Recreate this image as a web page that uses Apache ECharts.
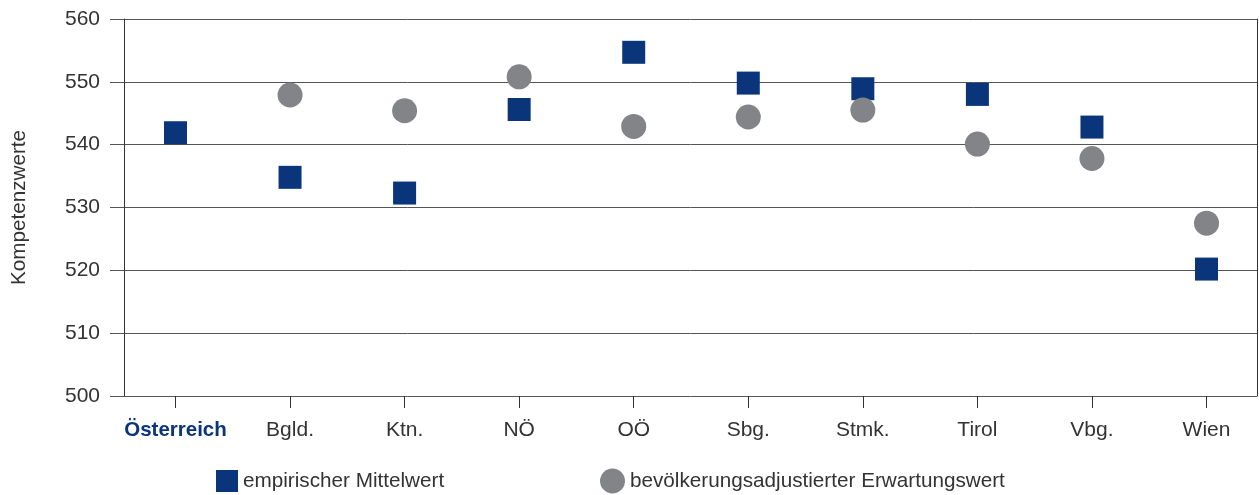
<!DOCTYPE html>
<html>
<head>
<meta charset="utf-8">
<script src="https://cdn.jsdelivr.net/npm/echarts@6/dist/echarts.min.js"></script>
<style>
html,body{margin:0;padding:0;background:#fff;}
#chart{width:1259px;height:495px;}
</style>
</head>
<body>
<div id="chart"></div>
<script>
const categories = ['Österreich', 'Bgld.', 'Ktn.', 'NÖ', 'OÖ', 'Sbg.', 'Stmk.', 'Tirol', 'Vbg.', 'Wien'];
const empirical = [541.9, 534.8, 532.3, 545.6, 554.7, 549.8, 548.9, 548.0, 542.8, 520.2];
const expected = [null, 547.9, 545.4, 550.8, 542.9, 544.4, 545.5, 540.1, 537.8, 527.5];
const yTicks = [500, 510, 520, 530, 540, 550, 560];
const seriesNames = ['empirischer Mittelwert', 'bevölkerungsadjustierter Erwartungswert'];
const yName = 'Kompetenzwerte';

const FONT = '"Liberation Sans", Arial, sans-serif';
const TXT = '#333333';
const NAVY = '#0a357a';
const GRAY = '#838488';

const chart = echarts.init(document.getElementById('chart'), null, {renderer: 'canvas'});
chart.setOption({
  animation: false,
  backgroundColor: '#ffffff',
  textStyle: {fontFamily: FONT},
  grid: [
    {left: 124, top: 19, width: 1133, height: 377, containLabel: false, outerBoundsMode: 'none'},
    {left: 118.2, top: 19, width: 1145.6, height: 377, containLabel: false, outerBoundsMode: 'none'}
  ],
  xAxis: [
    {gridIndex: 0, type: 'value', min: 0, max: 1, show: false},
    {
      gridIndex: 1, type: 'category', data: categories, boundaryGap: true,
      axisLine: {show: false},
      axisTick: {show: true, interval: 0, alignWithLabel: true, length: 12, lineStyle: {color: '#333', width: 1}},
      axisLabel: {
        interval: 0, margin: 24, fontSize: 21, color: TXT, fontFamily: FONT,
        formatter: function (v, i) { return i === 0 ? '{hl|' + v + '}' : v; },
        rich: {hl: {color: NAVY, fontWeight: 'bold', fontSize: 20.5, fontFamily: FONT}}
      },
      splitLine: {show: false}
    }
  ],
  yAxis: [
    {
      gridIndex: 0, type: 'value', min: yTicks[0], max: yTicks[yTicks.length - 1], interval: 10,
      name: yName, nameLocation: 'middle', nameGap: 94, nameRotate: 90,
      nameTextStyle: {fontSize: 20.7, color: TXT, fontFamily: FONT},
      axisLine: {show: true, lineStyle: {color: '#333', width: 1}},
      axisTick: {show: true, length: 14, lineStyle: {color: '#555', width: 1}},
      axisLabel: {margin: 24, fontSize: 21, color: TXT, fontFamily: FONT},
      splitLine: {show: true, lineStyle: {color: '#555', width: 1}}
    },
    {
      gridIndex: 0, type: 'value', position: 'right', min: 500, max: 560,
      axisLine: {show: true, lineStyle: {color: '#333', width: 1}},
      axisTick: {show: false}, axisLabel: {show: false}, splitLine: {show: false}
    },
    {gridIndex: 1, type: 'value', min: 500, max: 560, show: false}
  ],
  legend: [
    {
      data: [seriesNames[0]], left: 216, top: 470, padding: 0, itemWidth: 22, itemHeight: 22,
      textStyle: {fontSize: 20.7, color: TXT, fontFamily: FONT}, selectedMode: false
    },
    {
      data: [seriesNames[1]], left: 600, top: 468.5, padding: 0, itemWidth: 25, itemHeight: 25,
      textStyle: {fontSize: 20.7, color: TXT, fontFamily: FONT}, selectedMode: false
    }
  ],
  series: [
    {
      name: seriesNames[0], type: 'scatter', xAxisIndex: 1, yAxisIndex: 2,
      symbol: 'rect', symbolSize: 23, itemStyle: {color: NAVY, opacity: 1},
      data: empirical, z: 3
    },
    {
      name: seriesNames[1], type: 'scatter', xAxisIndex: 1, yAxisIndex: 2,
      symbol: 'circle', symbolSize: 25, itemStyle: {color: GRAY, opacity: 1},
      data: expected, z: 4
    }
  ]
});
</script>
</body>
</html>
